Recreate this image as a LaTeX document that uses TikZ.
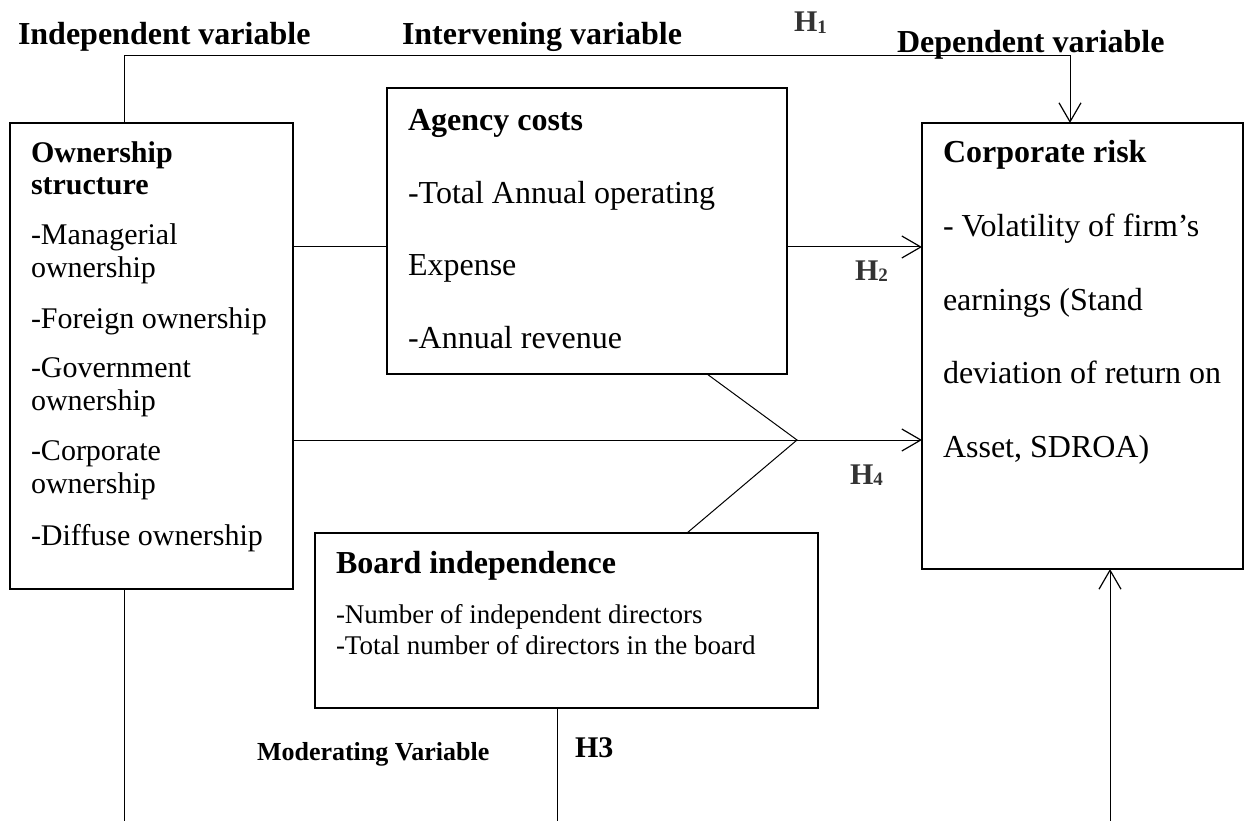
\documentclass[tikz,border=0pt]{standalone}
\usepackage{fontspec}
\setmainfont{Liberation Serif}
\usetikzlibrary{arrows.meta}
\newcommand\Hsub[1]{H\raisebox{-1.5pt}{\fontsize{19pt}{19pt}\selectfont #1}}
\begin{document}
\begin{tikzpicture}[x=1pt,y=-1pt,
  box/.style={draw,line width=1.5pt,inner sep=0pt,outer sep=0pt,anchor=north west},
  conn/.style={line width=1pt},
  arr/.style={conn,-{Straight Barb[length=19pt,width=22pt,line width=1.2pt]}},
  txt/.style={anchor=base west,inner sep=0pt,outer sep=0pt},
  hd/.style={txt,font=\fontsize{32pt}{38pt}\selectfont\bfseries},
  body/.style={txt,font=\fontsize{32pt}{38pt}\selectfont},
  own/.style={txt,font=\fontsize{30pt}{36pt}\selectfont},
  ownb/.style={txt,font=\fontsize{30pt}{36pt}\selectfont\bfseries},
  small/.style={txt,font=\fontsize{27pt}{32pt}\selectfont},
  hyp/.style={txt,font=\fontsize{30pt}{36pt}\selectfont\bfseries,text=black!80},
]
\fill[white] (0,0) rectangle (1248,821);
\useasboundingbox (0,0) rectangle (1248,821);

% boxes
\node[box,minimum width=283pt,minimum height=466pt] (own) at (10,123) {};
\node[box,minimum width=400pt,minimum height=286pt] (agency) at (387,88) {};
\node[box,minimum width=321pt,minimum height=446pt] (risk) at (922,123) {};
\node[box,minimum width=503pt,minimum height=175pt] (board) at (315,533) {};

% headers
\node[hd] (hIndep) at (18,45) {Independent variable};
\node[hd] (hInter) at (402,45) {Intervening variable};
\node[hd] (hDep) at (897,53) {Dependent variable};
\node[hyp] (H1) at (794,32) {\Hsub{1}};
\node[hyp] (H2) at (855,280) {\Hsub{2}};
\node[hyp] (H4) at (850,484) {\Hsub{4}};
\node[txt,font=\fontsize{30pt}{36pt}\selectfont\bfseries] (H3) at (575,757) {H3};
\node[txt,font=\fontsize{26pt}{30pt}\selectfont\bfseries] (mod) at (257,760) {Moderating Variable};

% ownership text
\node[ownb] (o1) at (31,163) {Ownership};
\node[ownb] (o2) at (31,195) {structure};
\node[own] (o3) at (31,245) {-Managerial};
\node[own] (o4) at (31,277) {ownership};
\node[own] (o5) at (31,328) {-Foreign ownership};
\node[own] (o6) at (31,377) {-Government};
\node[own] (o7) at (31,410) {ownership};
\node[own] (o8) at (31,460) {-Corporate};
\node[own] (o9) at (31,493) {ownership};
\node[own] (o10) at (31,545) {-Diffuse ownership};

% agency text
\node[hd] (a1) at (408,131) {Agency costs};
\node[body] (a2) at (408,204) {-Total Annual operating};
\node[body] (a3) at (408,276) {Expense};
\node[body] (a4) at (408,348) {-Annual revenue};

% risk text
\node[hd] (r1) at (943,163) {Corporate risk};
\node[body] (r2) at (943,237) {- Volatility of firm’s};
\node[body] (r3) at (943,310) {earnings (Stand};
\node[body] (r4) at (943,383) {deviation of return on};
\node[body] (r5) at (943,457) {Asset, SDROA)};

% board text
\node[hd] (b1) at (336,573) {Board independence};
\node[small] (b2) at (336,623) {-Number of independent directors};
\node[small] (b3) at (336,654) {-Total number of directors in the board};

% helper coordinates
\coordinate (topL) at (124,56);
\coordinate (topR) at (1070,56);
\coordinate (yH2) at (0,247);
\coordinate (apex) at (797,440);
\coordinate (vA) at (707,0);
\coordinate (vB) at (687,0);
\coordinate (botL) at (124,821);
\coordinate (botM) at (557,821);
\coordinate (botR) at (1110,821);

% connectors
\draw[arr] (topL |- own.north) -- (topL) -- (topR) -- (topR |- risk.north);
\draw[conn] (own.east |- yH2) -- (agency.west |- yH2);
\draw[arr] (agency.east |- yH2) -- (risk.west |- yH2);
\draw[arr] (own.east |- apex) -- (risk.west |- apex);
\draw[conn] (vA |- agency.south) -- (apex) -- (vB |- board.north);
\draw[conn] (own.south -| botL) -- (botL);
\draw[conn] (board.south -| botM) -- (botM);
\draw[arr] (botR) -- (risk.south -| botR);
\end{tikzpicture}
\end{document}
